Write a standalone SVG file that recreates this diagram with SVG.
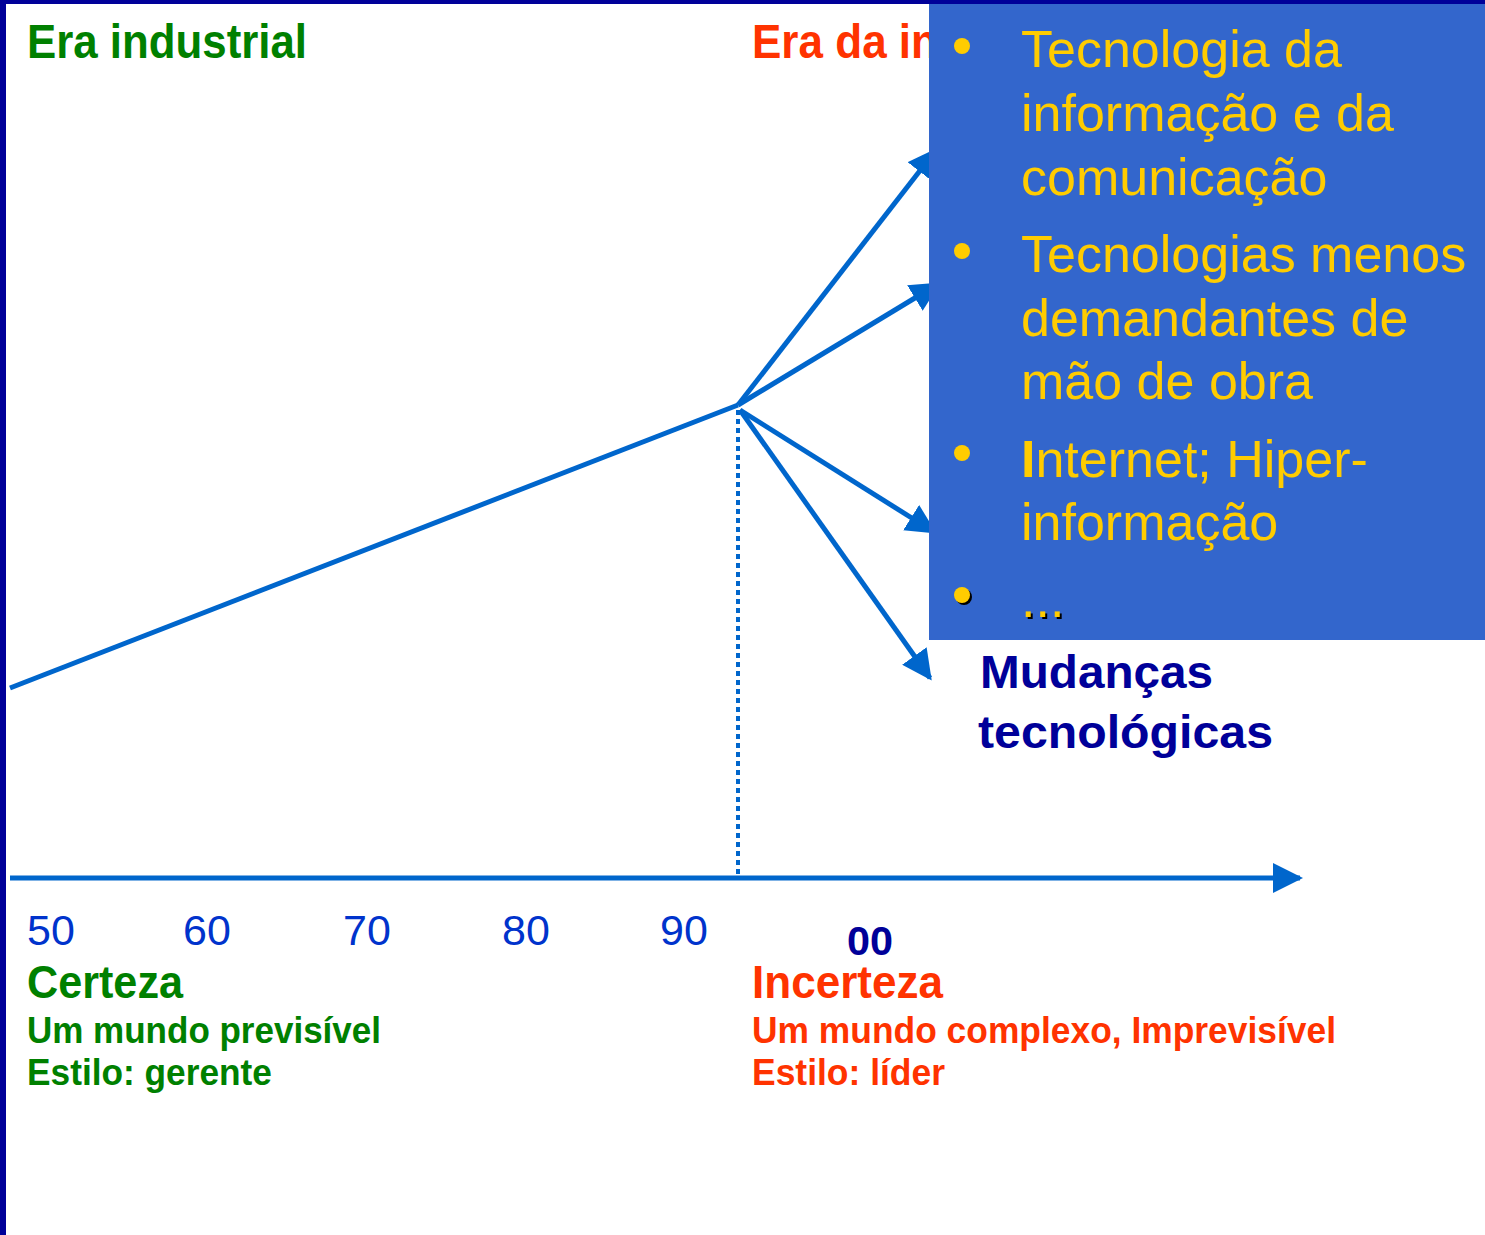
<svg xmlns="http://www.w3.org/2000/svg" width="1485" height="1235" viewBox="0 0 1485 1235">
<defs>
<style>
.lbl{font-family:"Liberation Sans",Arial,sans-serif;font-weight:bold}
.grn{fill:#008000}
.red{fill:#FF3300}
.yr{font-family:"Liberation Sans",Arial,sans-serif;font-size:43px;fill:#0033CC}
.box{font-family:"Liberation Sans",Arial,sans-serif;font-size:52px;fill:#FFCC00}
.ln{stroke:#0066CC;stroke-width:5;fill:none}
</style>
<marker id="ah" viewBox="0 0 10 10" refX="9" refY="5" markerWidth="6" markerHeight="6" markerUnits="strokeWidth" orient="auto">
<path d="M0,0 L10,5 L0,10 z" fill="#0066CC"/>
</marker>
</defs>
<rect x="0" y="0" width="1485" height="1235" fill="#000099"/>
<rect x="6" y="4" width="1479" height="1231" fill="#FFFFFF"/>

<g id="titles">
<text class="lbl grn" x="27" y="58" font-size="48" textLength="280" lengthAdjust="spacingAndGlyphs">Era industrial</text>
<text class="lbl red" x="752" y="58" font-size="48" textLength="186" lengthAdjust="spacingAndGlyphs">Era da in</text>
</g>

<g id="connectors">
<line class="ln" x1="10" y1="688" x2="738" y2="405"/>
<line class="ln" x1="738" y1="405" x2="936" y2="150" marker-end="url(#ah)"/>
<line class="ln" x1="738" y1="405" x2="938" y2="284" marker-end="url(#ah)"/>
<line class="ln" x1="740" y1="410" x2="934" y2="532" marker-end="url(#ah)"/>
<line class="ln" x1="740" y1="410" x2="930" y2="678" marker-end="url(#ah)"/>
<line x1="738" y1="410" x2="738" y2="876" stroke="#0066CC" stroke-width="4" stroke-dasharray="5,4"/>
<line class="ln" x1="10" y1="878" x2="1300" y2="878" marker-end="url(#ah)"/>
</g>

<g id="years">
<text class="yr" x="27" y="945">50</text>
<text class="yr" x="183" y="945">60</text>
<text class="yr" x="343" y="945">70</text>
<text class="yr" x="502" y="945">80</text>
<text class="yr" x="660" y="945">90</text>
<text class="lbl" x="847" y="955" font-size="40" fill="#000099" textLength="46" lengthAdjust="spacingAndGlyphs">00</text>
</g>

<g id="certeza">
<text class="lbl grn" x="27" y="998" font-size="46" textLength="156" lengthAdjust="spacingAndGlyphs">Certeza</text>
<text class="lbl grn" x="27" y="1043" font-size="36" textLength="354" lengthAdjust="spacingAndGlyphs">Um mundo previsível</text>
<text class="lbl grn" x="27" y="1085" font-size="36" textLength="245" lengthAdjust="spacingAndGlyphs">Estilo: gerente</text>
</g>

<g id="incerteza">
<text class="lbl red" x="752" y="998" font-size="46" textLength="191" lengthAdjust="spacingAndGlyphs">Incerteza</text>
<text class="lbl red" x="752" y="1043" font-size="36" textLength="584" lengthAdjust="spacingAndGlyphs">Um mundo complexo, Imprevisível</text>
<text class="lbl red" x="752" y="1085" font-size="36" textLength="193" lengthAdjust="spacingAndGlyphs">Estilo: líder</text>
</g>

<g id="mudancas">
<text class="lbl" x="980" y="688" font-size="46" fill="#000099" textLength="233" lengthAdjust="spacingAndGlyphs">Mudanças</text>
<text class="lbl" x="978" y="748" font-size="46" fill="#000099" textLength="295" lengthAdjust="spacingAndGlyphs">tecnológicas</text>
</g>

<g id="bullet-box">
<rect x="929" y="4" width="556" height="636" fill="#3366CC"/>
<circle cx="962" cy="46" r="8" fill="#FFCC00"/>
<text class="box" x="1021" y="67">Tecnologia da</text>
<text class="box" x="1021" y="131">informação e da</text>
<text class="box" x="1021" y="195">comunicação</text>
<circle cx="962" cy="251" r="8" fill="#FFCC00"/>
<text class="box" x="1021" y="272">Tecnologias menos</text>
<text class="box" x="1021" y="336">demandantes de</text>
<text class="box" x="1021" y="399">mão de obra</text>
<circle cx="962" cy="453" r="8" fill="#FFCC00"/>
<text class="box" x="1021" y="477"><tspan font-weight="bold">I</tspan>nternet; Hiper-</text>
<text class="box" x="1021" y="540">informação</text>
<circle cx="964" cy="597" r="8" fill="#000000"/>
<circle cx="962" cy="595" r="8" fill="#FFCC00"/>
<text class="box" x="1023" y="619" fill="#000000" style="fill:#000000">...</text>
<text class="box" x="1021" y="617">...</text>
</g>
</svg>
